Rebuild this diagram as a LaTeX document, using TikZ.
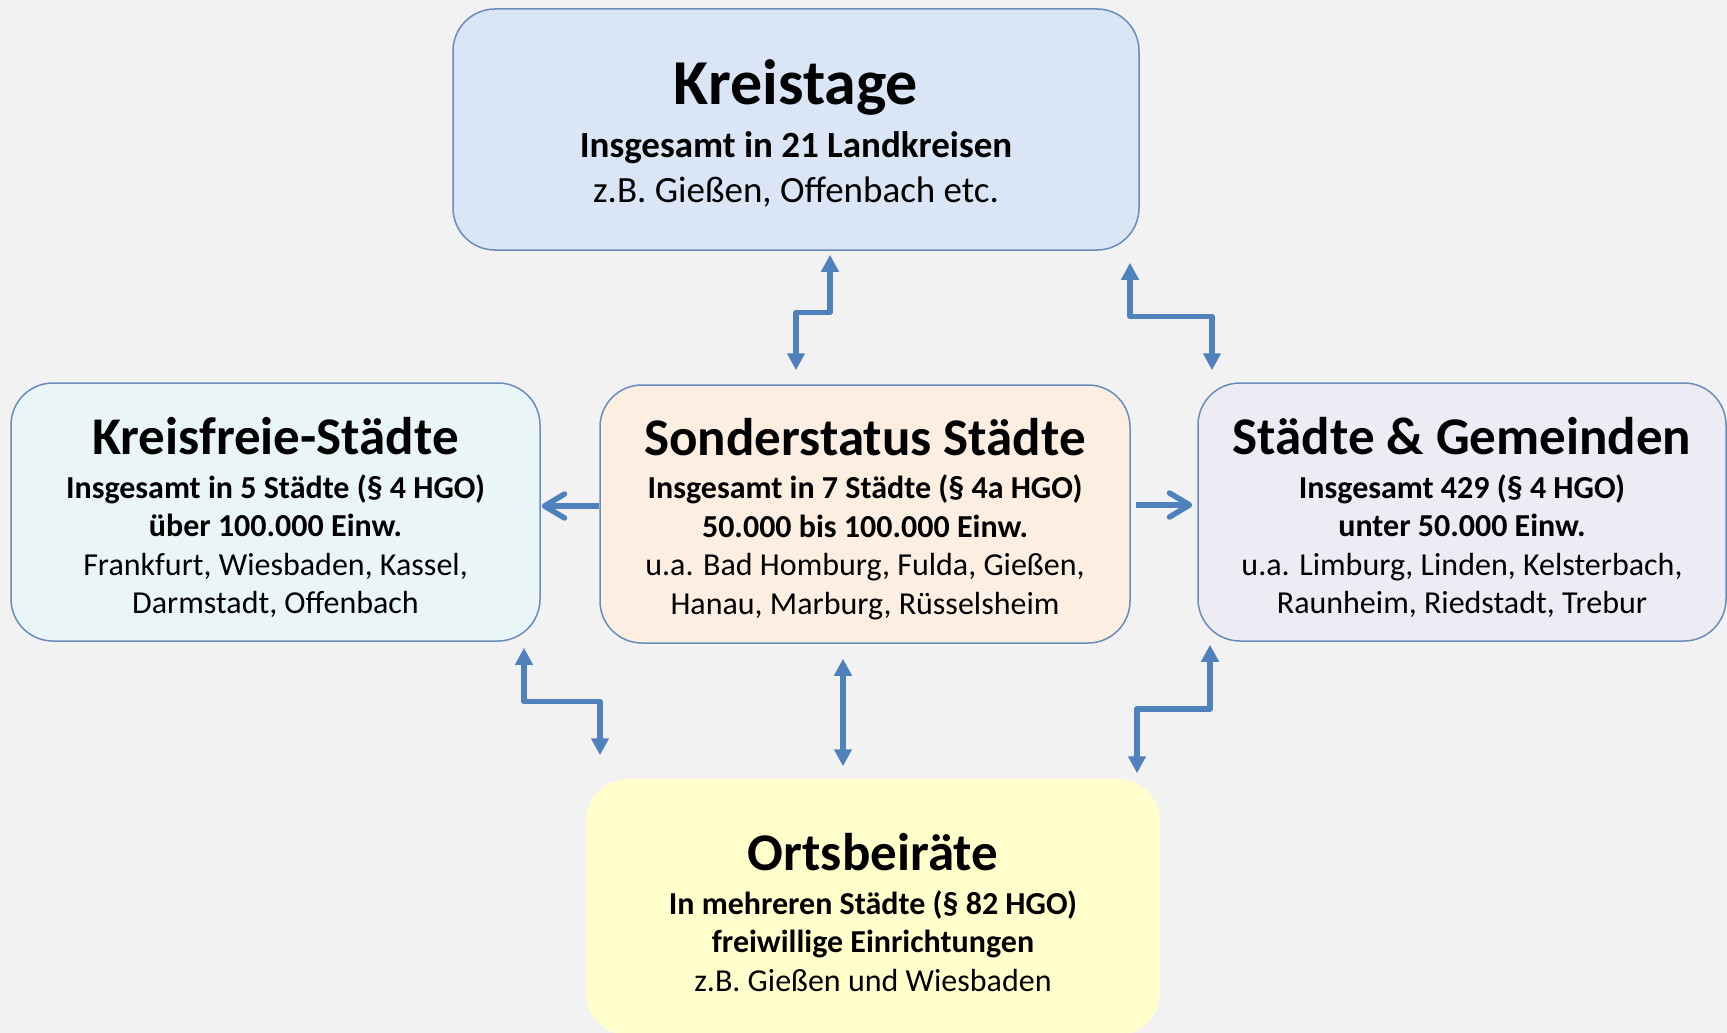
\documentclass[tikz,border=0pt]{standalone}
\usepackage{fontspec}
\setmainfont{Carlito}
\usetikzlibrary{arrows.meta, calc}
\definecolor{bgGray}{RGB}{242,242,242}
\definecolor{boxLine}{RGB}{106,140,188}
\definecolor{linkBlue}{RGB}{79,129,189}
\definecolor{kreisBlue}{RGB}{218,230,245}
\definecolor{freiCyan}{RGB}{234,245,248}
\definecolor{sonderPeach}{RGB}{253,238,226}
\definecolor{gemLilac}{RGB}{237,235,243}
\definecolor{ortsYellow}{RGB}{255,255,204}
\newcommand{\boxtitle}[3][0.9em]{{\fontsize{#2}{#2}\selectfont\bfseries\rule{0pt}{#1}#3}}

\begin{document}
\begin{tikzpicture}[x=1pt, y=-1pt,
  panel/.style={draw=boxLine, line width=1.5pt, rounded corners=42pt, align=center, inner sep=0pt},
  side/.style={panel, minimum height=258, font=\fontsize{32}{38.5}\selectfont},
  link/.style={linkBlue, line width=5.5pt, line join=round, {Triangle[length=17pt,width=17pt]}-{Triangle[length=17pt,width=17pt]}},
  push/.style={linkBlue, line width=5.5pt, -{Straight Barb[length=20pt,width=24pt,round]}}]
  % background
  \fill[bgGray] (0,0) rectangle (1727,1033);
  \useasboundingbox (0,0) rectangle (1727,1033);

  % boxes
  \node[panel, fill=kreisBlue, minimum width=686, minimum height=241,
    font=\fontsize{37}{45}\selectfont] (kreistage) at (796,129.5)
    {\boxtitle[53pt]{64}{Kreistage}\\[8pt]
     \textbf{Insgesamt in 21 Landkreisen}\\
     z.B. Gießen, Offenbach etc.};

  \node[side, fill=freiCyan, minimum width=529] (kreisfreie) at (275.5,512)
    {\boxtitle{53}{Kreisfreie-Städte}\\[5.5pt]
     \textbf{Insgesamt in 5 Städte (§ 4 HGO)}\\
     \textbf{über 100.000 Einw.}\\
     Frankfurt, Wiesbaden, Kassel,\\
     Darmstadt, Offenbach};

  \node[side, fill=sonderPeach, minimum width=530] (sonder) at (865,514)
    {\boxtitle{53}{Sonderstatus Städte}\\[4.5pt]
     \textbf{Insgesamt in 7 Städte (§ 4a HGO)}\\
     \textbf{50.000 bis 100.000 Einw.}\\
     u.a. Bad Homburg, Fulda, Gießen,\\
     Hanau, Marburg, Rüsselsheim};

  \node[side, fill=gemLilac, minimum width=528] (staedte) at (1462,512)
    {\boxtitle{53}{Städte \& Gemeinden}\\[5.5pt]
     \textbf{Insgesamt 429 (§ 4 HGO)}\\
     \textbf{unter 50.000 Einw.}\\
     u.a. Limburg, Linden, Kelsterbach,\\
     Raunheim, Riedstadt, Trebur};

  \node[side, draw=none, fill=ortsYellow, minimum width=574, minimum height=256] (orts) at (873,907)
    {\boxtitle{53}{Ortsbeiräte}\\[5.5pt]
     \textbf{In mehreren Städte (§ 82 HGO)}\\
     \textbf{freiwillige Einrichtungen}\\
     z.B. Gießen und Wiesbaden};

  % connector ends
  \coordinate (kt-a) at ($(kreistage.south)+(34,4)$);
  \coordinate (so-a) at ($(sonder.north)+(-69,-14)$);
  \coordinate (kt-b) at ($(kreistage.south)+(334,12)$);
  \coordinate (st-a) at ($(staedte.north)+(-250,-12)$);
  \coordinate (kf-a) at ($(kreisfreie.south)+(248.5,6)$);
  \coordinate (or-a) at ($(orts.north)+(-273,-23)$);
  \coordinate (so-b) at ($(sonder.south)+(-22,15)$);
  \coordinate (or-b) at ($(orts.north)+(-30,-12)$);
  \coordinate (st-b) at ($(staedte.south)+(-252,3)$);
  \coordinate (or-c) at ($(orts.north)+(264,-5)$);
  \coordinate (so-l) at ($(sonder.west)+(0,-8)$);
  \coordinate (so-r) at ($(sonder.east)+(5,-9)$);

  % connectors
  \draw[link] (kt-a) |- ($(kt-a)!.5!(so-a)$) -| (so-a);
  \draw[link] (kt-b) |- ($(kt-b)!.5!(st-a)$) -| (st-a);
  \draw[link] (kf-a) |- ($(kf-a)!.5!(or-a)$) -| (or-a);
  \draw[link] (so-b) -- (or-b);
  \draw[link] (st-b) |- ($(st-b)!.5!(or-c)$) -| (or-c);
  \draw[push] (so-l) -- ($(so-l -| kreisfreie.east)+(1,0)$);
  \draw[push] (so-r) -- ($(so-r -| staedte.west)+(-5,0)$);
\end{tikzpicture}
\end{document}
